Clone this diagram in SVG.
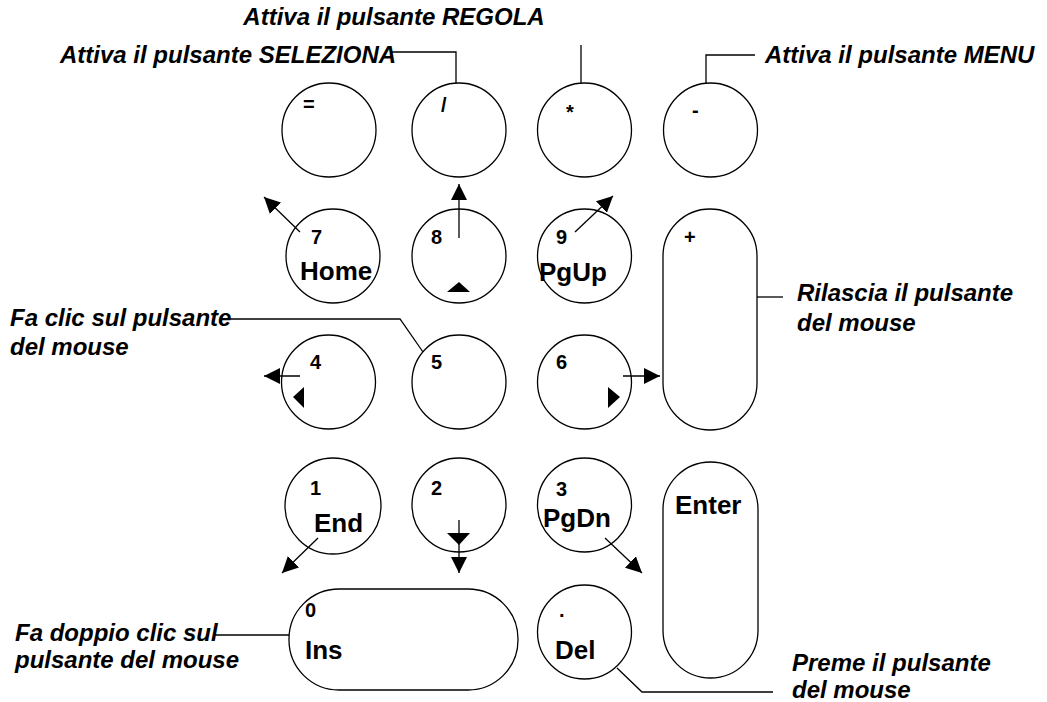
<svg xmlns="http://www.w3.org/2000/svg" width="1047" height="702" viewBox="0 0 1047 702">
<defs>
<style>
.k{fill:#fff;stroke:#000;stroke-width:1.3}
.n{font-family:"Liberation Sans",Arial,sans-serif;font-weight:bold;font-size:20px;fill:#000}
.w{font-family:"Liberation Sans",Arial,sans-serif;font-weight:bold;font-size:26px;fill:#000}
.c{font-family:"Liberation Sans",Arial,sans-serif;font-weight:bold;font-style:italic;font-size:24px;fill:#000}
.l{fill:none;stroke:#000;stroke-width:1.3}
.t{fill:#000}
</style>
<marker id="ah" viewBox="0 0 10 10" refX="10" refY="5" markerWidth="16" markerHeight="16" markerUnits="userSpaceOnUse" orient="auto"><path d="M0,0 L10,5 L0,10 Z" fill="#000"/></marker>
</defs>
<rect width="1047" height="702" fill="#fff"/>
<g id="k-eq"><circle class="k" cx="329" cy="130" r="47"/><text class="n" x="303" y="111">=</text></g>
<g id="k-div"><circle class="k" cx="459" cy="130" r="47"/><text class="n" x="441" y="112">/</text></g>
<g id="k-mul"><circle class="k" cx="584.5" cy="130" r="47"/><text class="n" x="566" y="119">*</text></g>
<g id="k-sub"><circle class="k" cx="710.5" cy="130" r="47"/><text class="n" x="692" y="117">-</text></g>
<g id="k7"><circle class="k" cx="333" cy="256" r="47"/><text class="n" x="311" y="244">7</text><text class="w" x="300" y="280">Home</text></g>
<g id="k8"><circle class="k" cx="459" cy="256" r="47"/><text class="n" x="431" y="244">8</text><path class="t" d="M447,292 L470,292 L459,282 Z"/></g>
<g id="k9"><circle class="k" cx="584.5" cy="256" r="47"/><text class="n" x="556" y="244">9</text><text class="w" x="539" y="281">PgUp</text></g>
<g id="k-add"><rect class="k" x="663" y="209" width="94" height="221" rx="47"/><text class="n" x="684" y="244">+</text></g>
<g id="k4"><circle class="k" cx="328.5" cy="382" r="47"/><text class="n" x="310" y="369">4</text><path class="t" d="M293,397 L304,387 L304,408 Z"/></g>
<g id="k5"><circle class="k" cx="459" cy="382" r="47"/><text class="n" x="431" y="369">5</text></g>
<g id="k6"><circle class="k" cx="584.5" cy="382" r="47"/><text class="n" x="556" y="369">6</text><path class="t" d="M608,387 L620,397 L608,408 Z"/></g>
<g id="k1"><circle class="k" cx="333" cy="506" r="48"/><text class="n" x="310" y="495">1</text><text class="w" x="314" y="532">End</text></g>
<g id="k2"><circle class="k" cx="459" cy="505" r="47"/><text class="n" x="431" y="495">2</text><path class="t" d="M447,533 L470,533 L459,545 Z"/></g>
<g id="k3"><circle class="k" cx="584.5" cy="505" r="47"/><text class="n" x="556" y="496">3</text><text class="w" x="543" y="527">PgDn</text></g>
<g id="k-enter"><rect class="k" x="663" y="462" width="95" height="216" rx="47.5"/><text class="w" x="675" y="514">Enter</text></g>
<g id="k0"><rect class="k" x="289" y="589" width="229" height="101" rx="50"/><text class="n" x="305" y="617">0</text><text class="w" x="305" y="659">Ins</text></g>
<g id="k-dot"><circle class="k" cx="584.5" cy="632" r="47"/><text class="n" x="559" y="617">.</text><text class="w" x="555" y="659">Del</text></g>
<g id="labels">
<text class="c" x="394" y="25" text-anchor="middle">Attiva il pulsante REGOLA</text>
<text class="c" x="60" y="63">Attiva il pulsante SELEZIONA</text>
<text class="c" x="765" y="63">Attiva il pulsante MENU</text>
<text class="c" x="797" y="301">Rilascia il pulsante</text>
<text class="c" x="797" y="331">del mouse</text>
<text class="c" x="10" y="326">Fa clic sul pulsante</text>
<text class="c" x="10" y="355">del mouse</text>
<text class="c" x="15" y="641">Fa doppio clic sul</text>
<text class="c" x="15" y="668">pulsante del mouse</text>
<text class="c" x="792" y="671">Preme il pulsante</text>
<text class="c" x="792" y="698">del mouse</text>
</g>
<g id="connectors">
<path class="l" d="M392,52 H456 V83"/>
<path class="l" d="M581,45 V83"/>
<path class="l" d="M755,55 H706 V83"/>
<path class="l" d="M757,297 H783"/>
<path class="l" d="M228,319 H400 L423,352"/>
<path class="l" d="M215,635 H289"/>
<path class="l" d="M617,668 L642,692 H773"/>
<path class="l" d="M300,232 L264,197" marker-end="url(#ah)"/>
<path class="l" d="M459,238 V184" marker-end="url(#ah)"/>
<path class="l" d="M575,232 L613,196" marker-end="url(#ah)"/>
<path class="l" d="M300,376 H264" marker-end="url(#ah)"/>
<path class="l" d="M623,376 H660" marker-end="url(#ah)"/>
<path class="l" d="M318,538 L282,573" marker-end="url(#ah)"/>
<path class="l" d="M459,520 V573" marker-end="url(#ah)"/>
<path class="l" d="M605,538 L642,573" marker-end="url(#ah)"/>
</g>
</svg>
